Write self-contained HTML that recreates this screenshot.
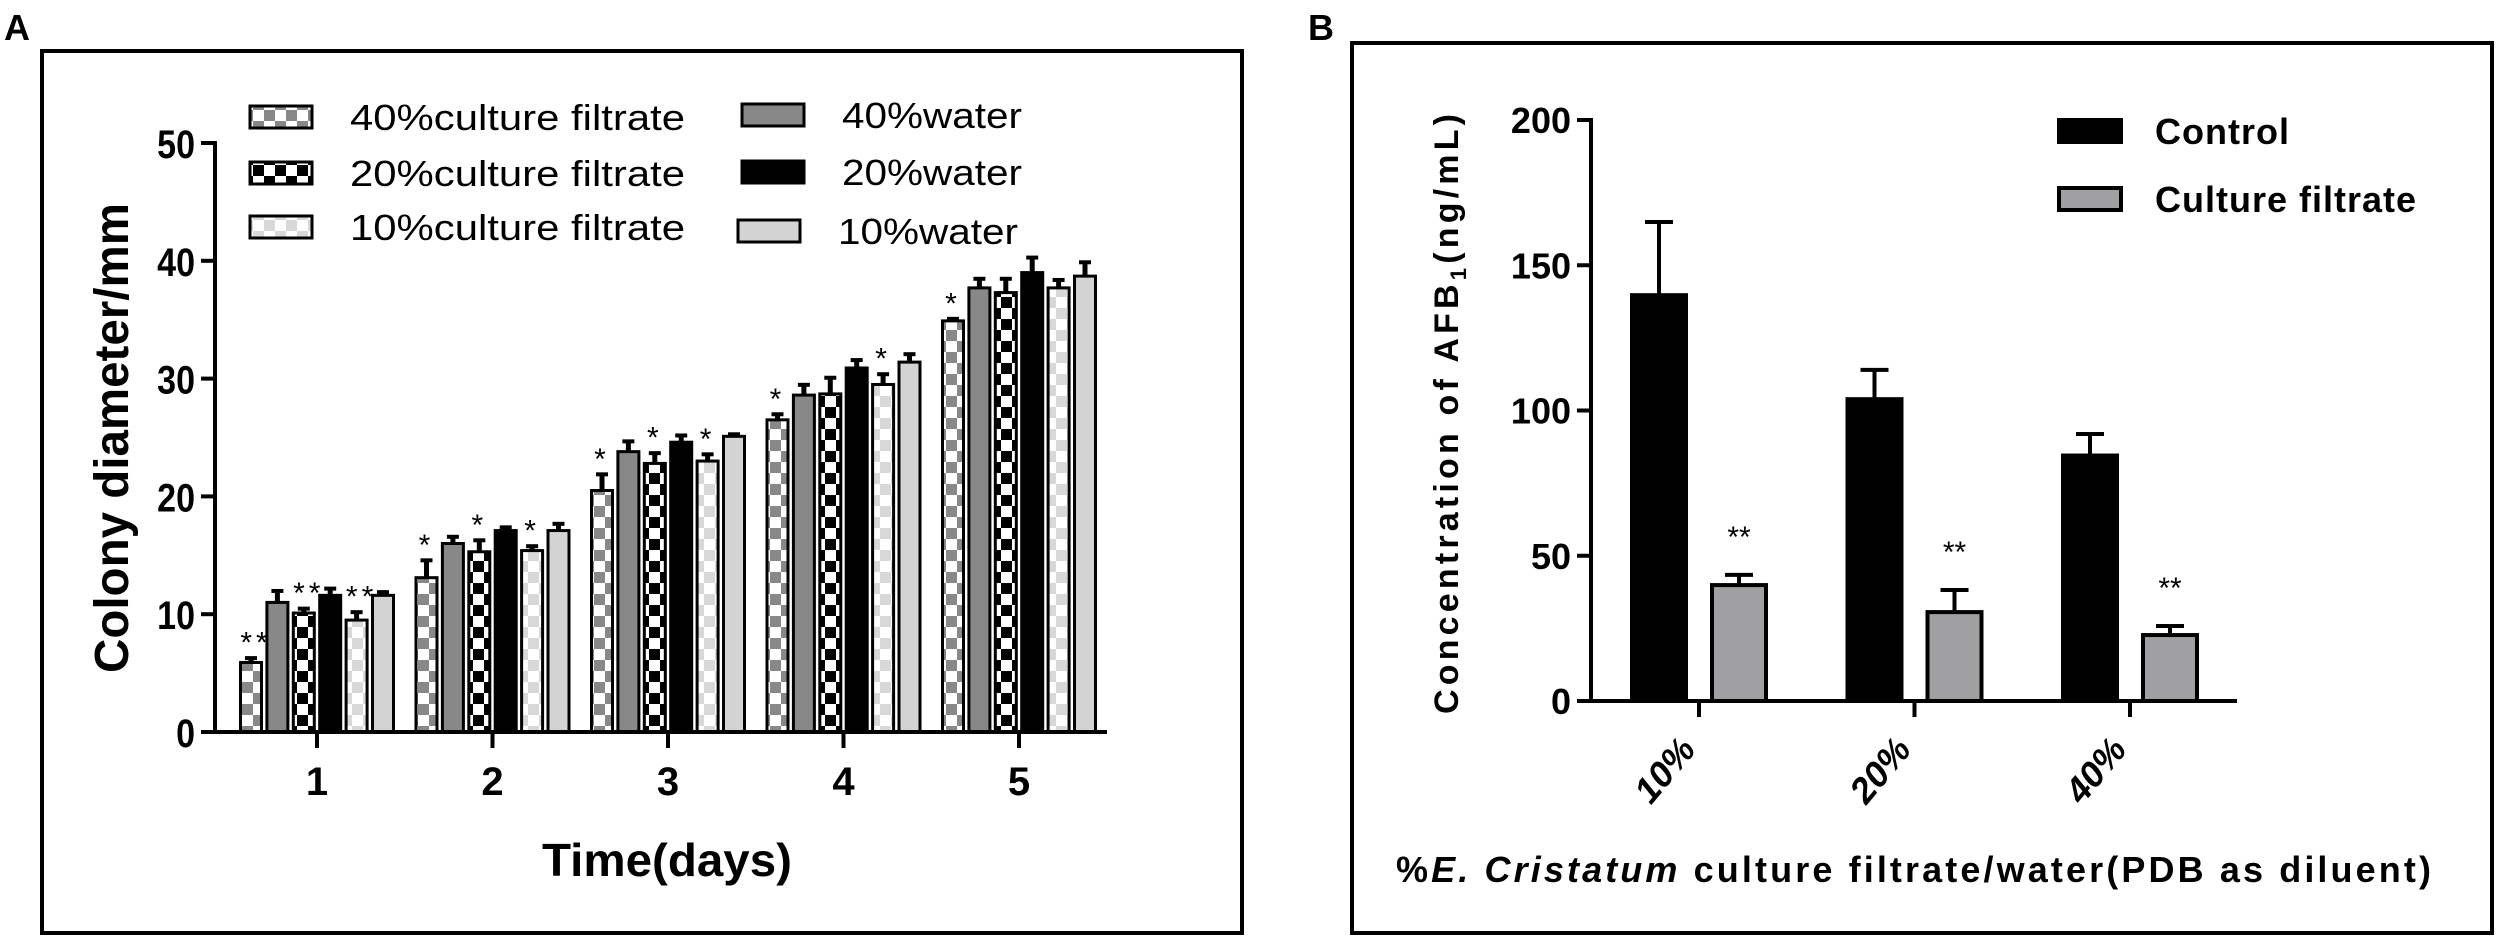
<!DOCTYPE html>
<html><head><meta charset="utf-8">
<style>
html,body{margin:0;padding:0;background:#fff;}
svg{display:block;font-family:"Liberation Sans",sans-serif;}
</style></head>
<body>
<svg id="fig" width="2500" height="939" viewBox="0 0 2500 939" xmlns="http://www.w3.org/2000/svg">
<defs>
<pattern id="pGray" width="22" height="22" patternUnits="userSpaceOnUse"><rect width="22" height="22" fill="#fff"/><rect width="11" height="11" fill="#888"/><rect x="11" y="11" width="11" height="11" fill="#888"/></pattern>
<pattern id="pBlack" width="22" height="22" patternUnits="userSpaceOnUse"><rect width="22" height="22" fill="#fff"/><rect width="11" height="11" fill="#000"/><rect x="11" y="11" width="11" height="11" fill="#000"/></pattern>
<pattern id="pLight" width="22" height="22" patternUnits="userSpaceOnUse"><rect width="22" height="22" fill="#fff"/><rect width="11" height="11" fill="#d8d8d8"/><rect x="11" y="11" width="11" height="11" fill="#d8d8d8"/></pattern>
</defs>
<text x="4" y="40" font-size="36" font-weight="bold">A</text>
<rect x="42" y="51" width="1200" height="882" fill="none" stroke="#000" stroke-width="4"/>
<g id="chartA"></g>
<text x="1308" y="40" font-size="36" font-weight="bold">B</text>
<rect x="1352" y="43" width="1140" height="890" fill="none" stroke="#000" stroke-width="4"/>
<g id="chartB"></g>
</svg>
<script>
// ---- Panel A data ----
const daysA = ["1","2","3","4","5"];
const seriesNamesA = ["40%culture filtrate","40%water","20%culture filtrate","20%water","10%culture filtrate","10%water"];
const cf40 = [5.9,13.1,20.5,26.5,34.9];
const w40 = [11.0,16.0,23.8,28.6,37.7];
const cf20 = [10.1,15.3,22.8,28.7,37.3];
const w20 = [11.6,17.1,24.6,30.9,39.0];
const cf10 = [9.5,15.4,23.0,29.5,37.7];
const w10 = [11.6,17.1,25.1,31.4,38.7];
const errCf40 = [0.5,1.6,1.5,0.6,0.3];
const errW40 = [1.1,0.7,1.0,1.0,0.9];
const errCf20 = [0.5,1.1,1.0,1.5,1.3];
const errW20 = [0.7,0.4,0.7,0.8,1.4];
const errCf10 = [0.8,0.5,0.7,1.0,0.8];
const errW10 = [0.4,0.7,0.3,0.8,1.3];
const starsCf40 = ["**","*","*","*","*"];
const starsCf20 = ["**","*","*","",""];
const starsCf10 = ["**","*","*","*",""];
const ticksA = [0,10,20,30,40,50];

// ---- Panel B data ----
const groupsB = ["10%","20%","40%"];
const controlB = [139.7,103.9,84.5];
const controlErrB = [25.2,10.1,7.4];
const filtrateB = [39.9,30.6,22.7];
const filtrateErrB = [3.5,7.6,3.1];
const starsB = ["**","**","**"];
const ticksB = [0,50,100,150,200];

const NS="http://www.w3.org/2000/svg";
function mk(tag, attrs, parent){const e=document.createElementNS(NS,tag);for(const k in attrs)e.setAttribute(k,attrs[k]);parent.appendChild(e);return e;}

// ===== Panel A =====
(function(){
const g=document.getElementById('chartA');
const x0=215, yZero=732, yTop=143, yMax=50;
const yA=v=>yZero-(v/yMax)*(yZero-yTop);
const groupX=i=>317+i*175.5;
const step=26.4, bw=21;
const series=[
 {v:cf40,e:errCf40,fill:"url(#pGray)",s:starsCf40,n:"40cf"},
 {v:w40,e:errW40,fill:"#888",s:null,n:"40w"},
 {v:cf20,e:errCf20,fill:"url(#pBlack)",s:starsCf20,n:"20cf"},
 {v:w20,e:errW20,fill:"#000",s:null,n:"20w"},
 {v:cf10,e:errCf10,fill:"url(#pLight)",s:starsCf10,n:"10cf"},
 {v:w10,e:errW10,fill:"#d3d3d3",s:null,n:"10w"}];
daysA.forEach((d,i)=>{
 series.forEach((s,j)=>{
  const cx=groupX(i)+(j-2.5)*step;
  const top=yA(s.v[i]), et=yA(s.v[i]+s.e[i]);
  const eb=mk('line',{x1:cx,x2:cx,y1:top,y2:et,stroke:"#000","stroke-width":5},g);
  
  
  const cap=mk('line',{x1:cx-6,x2:cx+6,y1:et+1.5,y2:et+1.5,stroke:"#000","stroke-width":4},g);
  
  
  const r=mk('rect',{x:cx-bw/2,y:top,width:bw,height:yZero-top,fill:s.fill,stroke:"#000","stroke-width":3},g);
  
  
  if(s.s && s.s[i]){
   const t=mk('text',{x:cx+(s.s[i].length>1?5:0),y:et-4,"font-size":30,"text-anchor":"middle","letter-spacing":"4"},g);
   t.textContent=s.s[i];
   
   
  }
 });
 const tk=mk('line',{x1:groupX(i),x2:groupX(i),y1:yZero,y2:yZero+16,stroke:"#000","stroke-width":4},g);
 
 
 const tl=mk('text',{x:groupX(i),y:795,"font-size":40,"font-weight":"bold","text-anchor":"middle"},g);
 tl.textContent=d;
 
 
});
const ya=mk('line',{x1:x0,x2:x0,y1:yTop-2,y2:yZero+2,stroke:"#000","stroke-width":4},g);


const xa=mk('line',{x1:x0-2,x2:1107,y1:yZero,y2:yZero,stroke:"#000","stroke-width":4},g);


ticksA.forEach(v=>{
 const t=mk('line',{x1:x0-14,x2:x0,y1:yA(v),y2:yA(v),stroke:"#000","stroke-width":4},g);
 
 
 const l=mk('text',{x:x0-20,y:yA(v)+15,"font-size":40,"font-weight":"bold","text-anchor":"end",transform:"translate("+(x0-20)+",0) scale(0.85,1) translate("+(-(x0-20))+",0)"},g);
 l.textContent=v;
 
 
});
const yt=mk('text',{x:0,y:0,"font-size":48,"font-weight":"bold","text-anchor":"middle",transform:"translate(128,438) rotate(-90)",textLength:"470",lengthAdjust:"spacingAndGlyphs"},g);
yt.textContent="Colony diameter/mm";


const xt=mk('text',{x:667,y:876,"font-size":46,"font-weight":"bold","text-anchor":"middle",textLength:"250",lengthAdjust:"spacingAndGlyphs"},g);
xt.textContent="Time(days)";


// legend
const leg=[["url(#pGray)","40%culture filtrate",250,117],["url(#pBlack)","20%culture filtrate",250,173],["url(#pLight)","10%culture filtrate",250,227],
 ["#888","40%water",742,115],["#000","20%water",742,172],["#d3d3d3","10%water",738,231]];
leg.forEach((L,k)=>{
 const sw=mk('rect',{x:L[2],y:L[3]-11,width:62,height:22,fill:L[0],stroke:"#000","stroke-width":3},g);
 
 
 const tx=L[2]+(k<3?100:100);
 const t=mk('text',{x:tx,y:L[3]+13,"font-size":36,textLength:(k<3?"335":"180"),lengthAdjust:"spacingAndGlyphs"},g);
 t.textContent=L[1];
 
 
});
})();

// ===== Panel B =====
(function(){
const g=document.getElementById('chartB');
const x0=1591, yZero=701, yTop=120, yMax=200;
const yB=v=>yZero-(v/yMax)*(yZero-yTop);
const groupX=i=>1699+i*215.5;
const bw=54, off=40;
groupsB.forEach((c,i)=>{
 [[controlB,controlErrB,"#000","control",-off],[filtrateB,filtrateErrB,"#a0a0a2","culture-filtrate",off]].forEach(S=>{
  const cx=groupX(i)+S[4];
  const top=yB(S[0][i]), et=yB(S[0][i]+S[1][i]);
  const eb=mk('line',{x1:cx,x2:cx,y1:top,y2:et,stroke:"#000","stroke-width":4},g);
  
  
  const cap=mk('line',{x1:cx-14,x2:cx+14,y1:et,y2:et,stroke:"#000","stroke-width":4},g);
  
  
  const r=mk('rect',{x:cx-bw/2,y:top,width:bw,height:yZero-top,fill:S[2],stroke:"#000","stroke-width":4},g);
  
  
  if(S[3]==="culture-filtrate"){
   const t=mk('text',{x:cx,y:et-28,"font-size":30,"text-anchor":"middle"},g);
   t.textContent=starsB[i];
   
   
  }
 });
 const tk=mk('line',{x1:groupX(i),x2:groupX(i),y1:yZero,y2:yZero+16,stroke:"#000","stroke-width":4},g);
 
 
 const tl=mk('text',{x:0,y:0,"font-size":36,"font-weight":"bold","font-style":"italic","text-anchor":"middle",transform:"translate("+(groupX(i)-25)+",778) rotate(-50)"},g);
 tl.textContent=c;
 
 
});
const ya=mk('line',{x1:x0,x2:x0,y1:yTop-2,y2:yZero+2,stroke:"#000","stroke-width":4},g);


const xa=mk('line',{x1:x0-2,x2:2237,y1:yZero,y2:yZero,stroke:"#000","stroke-width":4},g);


ticksB.forEach(v=>{
 const t=mk('line',{x1:x0-14,x2:x0,y1:yB(v),y2:yB(v),stroke:"#000","stroke-width":4},g);
 
 
 const l=mk('text',{x:x0-20,y:yB(v)+13,"font-size":36,"font-weight":"bold","text-anchor":"end"},g);
 l.textContent=v;
 
 
});
const yt=mk('text',{x:0,y:0,"font-size":34,"font-weight":"bold","text-anchor":"middle",transform:"translate(1458,414) rotate(-90)",textLength:"600",lengthAdjust:"spacing"},g);
yt.innerHTML='Concentration of AFB<tspan font-size="22" dy="8">1</tspan><tspan dy="-8">(ng/mL)</tspan>';


const xt=mk('text',{x:1396,y:882,"font-size":36,"font-weight":"bold",textLength:"1035",lengthAdjust:"spacing"},g);
xt.innerHTML='%<tspan font-style="italic">E. Cristatum</tspan> culture filtrate/water(PDB as diluent)';


[["#000","Control",131],["#a0a0a2","Culture filtrate",199]].forEach((L,k)=>{
 const sw=mk('rect',{x:2059,y:L[2]-11,width:62,height:22,fill:L[0],stroke:"#000","stroke-width":4},g);
 
 
 const t=mk('text',{x:2155,y:L[2]+13,"font-size":36,"font-weight":"bold","letter-spacing":"1"},g);
 t.textContent=L[1];
 
 
});
})();
</script>
</body></html>
